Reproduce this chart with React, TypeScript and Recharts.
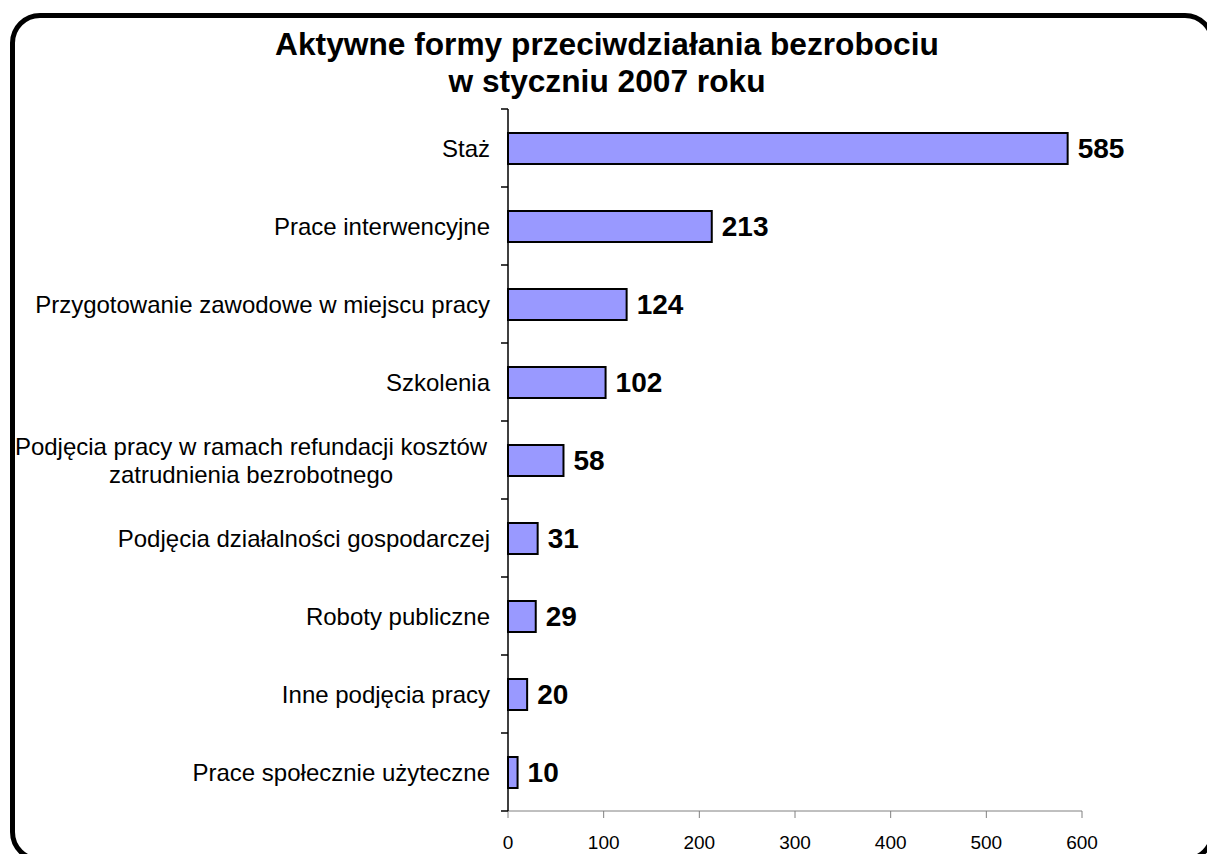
import React from "react";
import { BarChart, Bar, XAxis, YAxis, LabelList } from "recharts";

const categories = [
  "Staż",
  "Prace interwencyjne",
  "Przygotowanie zawodowe w miejscu pracy",
  "Szkolenia",
  "Podjęcia pracy w ramach refundacji kosztów\nzatrudnienia bezrobotnego",
  "Podjęcia działalności gospodarczej",
  "Roboty publiczne",
  "Inne podjęcia pracy",
  "Prace społecznie użyteczne",
];
const values = [585, 213, 124, 102, 58, 31, 29, 20, 10];
const xTicks = [0, 100, 200, 300, 400, 500, 600];

const data = categories.map((name, i) => ({ name, value: values[i] }));

const W = 1207;
const H = 854;
const TOP = 109;
const BOTTOM = 811;
const AXIS_X = 508;
const BAND = (BOTTOM - TOP) / categories.length;
const FONT = "'Liberation Sans', Arial, sans-serif";

const CategoryTick = (props: any) => {
  const { y, payload, index } = props;
  const lines = String(payload.value).split("\n");
  const x = AXIS_X;
  return (
    <g>
      <line x1={x - 7} x2={x} y1={y - BAND / 2} y2={y - BAND / 2} stroke="#000" strokeWidth={1.5} />
      {index === categories.length - 1 && (
        <line x1={x - 7} x2={x} y1={y + BAND / 2} y2={y + BAND / 2} stroke="#000" strokeWidth={1.5} />
      )}
      {lines.length === 1 ? (
        <text x={x - 18} y={y} textAnchor="end" dominantBaseline="central" fontSize={24} fill="#000" fontFamily={FONT}>
          {lines[0]}
        </text>
      ) : (
        lines.map((l, i) => (
          <text
            key={i}
            x={251}
            y={y + (i - (lines.length - 1) / 2) * 28}
            textAnchor="middle"
            dominantBaseline="central"
            fontSize={24}
            fill="#000"
            fontFamily={FONT}
          >
            {l}
          </text>
        ))
      )}
    </g>
  );
};

const ValueTick = (props: any) => {
  const { x, payload } = props;
  return (
    <text x={x} y={842} textAnchor="middle" dominantBaseline="central" fontSize={19} fill="#000" fontFamily={FONT}>
      {payload.value}
    </text>
  );
};

export default function App() {
  return (
    <div
      style={{
        position: "absolute",
        left: 0,
        top: 0,
        width: W,
        height: H,
        overflow: "hidden",
        background: "#fff",
        fontFamily: FONT,
      }}
    >
      <div
        style={{
          position: "absolute",
          left: 10,
          top: 13,
          width: 1205,
          height: 849,
          boxSizing: "border-box",
          border: "5px solid #000",
          borderRadius: 30,
        }}
      />
      <div
        style={{
          position: "absolute",
          left: 0,
          top: 26,
          width: 1214,
          textAlign: "center",
          fontWeight: "bold",
          fontSize: 31.7,
          lineHeight: "37px",
          color: "#000",
        }}
      >
        Aktywne formy przeciwdziałania bezrobociu
        <br />w styczniu 2007 roku
      </div>
      <div style={{ position: "absolute", left: 0, top: 0 }}>
        <BarChart
          width={W}
          height={H}
          data={data}
          layout="vertical"
          margin={{ top: TOP, right: W - 1082, bottom: 13, left: 0 }}
          barSize={31}
        >
          <XAxis
            type="number"
            domain={[0, 600]}
            ticks={xTicks}
            stroke="#808080"
            tickSize={7}
            height={30}
            tick={<ValueTick />}
          />
          <YAxis
            type="category"
            dataKey="name"
            width={AXIS_X}
            stroke="#000"
            strokeWidth={1.5}
            tickLine={false}
            interval={0}
            tick={<CategoryTick />}
          />
          <Bar dataKey="value" fill="#9999FF" stroke="#000" strokeWidth={2} isAnimationActive={false}>
            <LabelList
              dataKey="value"
              position="right"
              offset={10}
              style={{ fontWeight: "bold", fontSize: 28, fill: "#000", fontFamily: FONT }}
            />
          </Bar>
        </BarChart>
      </div>
    </div>
  );
}
